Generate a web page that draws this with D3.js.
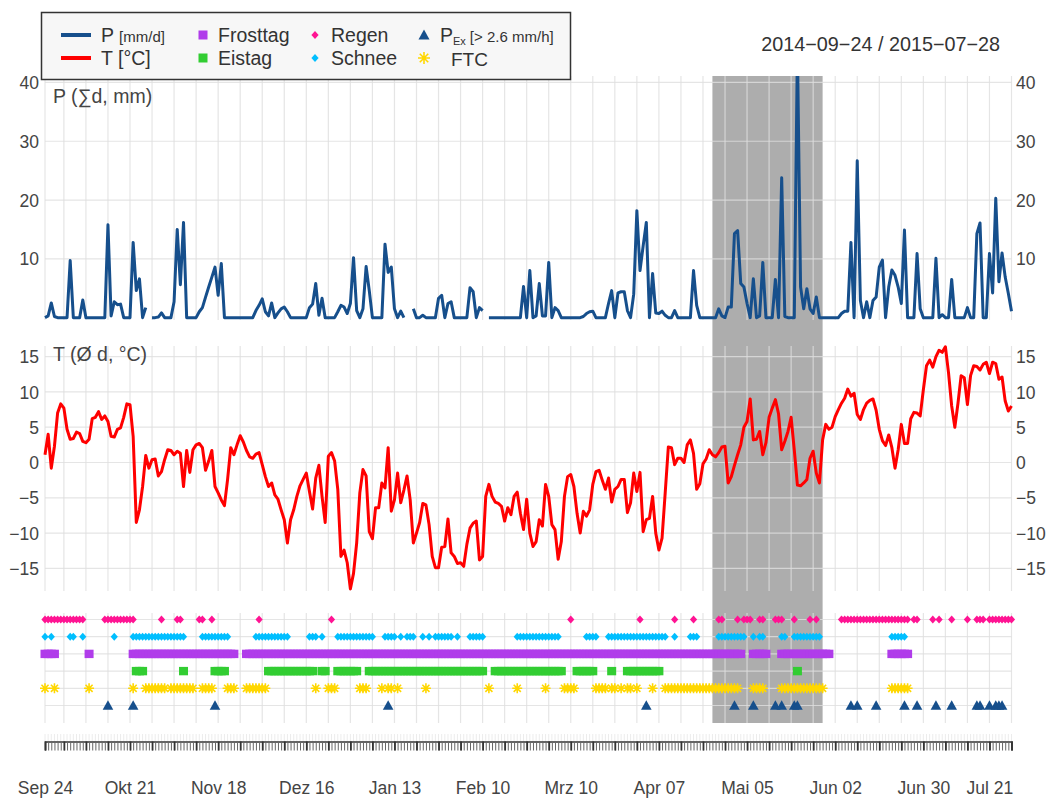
<!DOCTYPE html>
<html>
<head>
<meta charset="utf-8">
<script src="https://cdn.jsdelivr.net/npm/d3@7"></script>
<style>
  body { margin: 0; background: #fff; }
  svg { display: block; font-family: "Liberation Sans", Arial, sans-serif; }
</style>
</head>
<body>
<svg id="chart" width="1046" height="798"></svg>
<script>
// ---- period ----
const startDate = "2014-09-24";
const endDate = "2015-07-28";

// ---- daily precipitation sum (mm), null = no data ----
const precip = [
  0, 0.3, 2.5, 0.2, 0, 0, 0, 0, 9.7, 0, 0, 0, 3.0, 0, 0, 0, 0, 0, 0, 0,
  15.8, 0.3, 2.7, 2.2, 2.3, 0, 0, 0, 12.8, 4.6, 6.6, 0, 1.7, null, 0, 0, 0.1, 0.8, 0, 0,
  0, 2.7, 15.0, 5.6, 16.2, 0, 0, 0, 0, 1.0, 1.7, 3.5, 5.2, 6.9, 8.6, 3.8, 9.2, 0, 0, 0,
  0, 0, 0, 0, 0, 0, 0, 1.2, 2.1, 3.2, 1.0, 0.3, 2.5, 0, 0.8, 1.5, 1.8, 1.0, 0, 0,
  0, 0, 0, 0, 1.7, 2.3, 5.8, 0.4, 3.3, 0, 0, 0, 0, 1.0, 2.1, 1.8, 0.7, 2.4, 10.2, 1.2,
  0, 1.5, 8.7, 4.6, 0, 0, 0, 0, 12.5, 7.7, 8.6, 1.5, 0, 1.1, 0, null, null, 1.5, 0, 0,
  0.4, 0, 0, 0, 0, 3.3, 3.8, 0, 2.4, 2.7, 0, 0, 0, 0, 0, 5.1, 4.4, 0, 1.7, 1.2,
  null, 0, 0, 0, 0, 0, 0, 0, 0, 0, 0, 0, 5.3, 0, 8.0, 0, 0.3, 5.8, 0.3, 0.3,
  9.4, 0, 1.7, 1.2, 0, 0, 0, 0, 0, 0, 0, 0.2, 0.7, 1.0, 1.1, 0, 0, 0, 0, 2.4,
  4.6, 0, 4.2, 4.4, 4.4, 1.2, 0, 4.0, 18.2, 8.0, 12.2, 16.2, 0, 7.5, 0.8, 0.7, 1.1, 0.4, 0, 0,
  1.2, 0, 0, 0, 0, 0, 8.0, 2.1, 0, 0, 0, 0, 0, 0, 1.5, 0.3, 0, 1.8, 1.8, 14.3,
  14.8, 5.8, 5.2, 2.4, 0, 6.6, 0, 0.3, 9.4, 0, 0, 0, 6.5, 0, 23.8, 0.2, 0, 0, 0, 46,
  5.2, 1.5, 4.9, 1.5, 0.7, 3.5, 0, 0, 0, 0, 0, 0, 0, 0.7, 1.1, 1.1, 12.8, 0, 26.7, 2.9,
  0, 2.7, 0, 2.9, 3.5, 8.6, 9.8, 0, 5.2, 8.1, 7.2, 5.2, 2.4, 14.9, 0, 0, 0, 10.9, 1.5, 0,
  0, 0, 0, 10.1, 0, 0.5, 0, 0, 6.5, 0, 0, 0, 0, 1.7, 0, 0, 14.3, 16.1, 0, 0,
  10.9, 4.2, 20.3, 6.1, 11.0, 6.9, 4.1, 1.1
];

// ---- daily mean temperature (°C) ----
const temp = [
  1.1, 4.0, -0.8, 2.3, 7.0, 8.3, 7.7, 4.7, 3.3, 3.4, 4.3, 4.1, 3.0, 2.8, 3.3, 6.2, 6.4, 7.2, 6.1, 6.6,
  5.8, 3.7, 3.6, 4.7, 4.9, 6.4, 8.3, 8.2, 3.7, -8.5, -6.7, -3.4, 1.0, -0.8, 0.4, 0.5, -1.9, -1.3, 0.4, 1.8,
  1.7, 1.1, 1.6, 1.3, -3.4, 1.7, -1.4, 1.8, 2.5, 2.7, 2.1, -1.1, 0.2, 1.7, -3.4, -4.3, -5.3, -6.1, -2.4, 2.1,
  1.1, 2.5, 3.8, 2.9, 1.7, 0.8, 0.6, 1.2, 1.4, -0.3, -2.0, -3.4, -2.9, -4.6, -5.2, -6.7, -8.1, -11.4, -8.1, -6.7,
  -4.8, -3.3, -2.4, -1.5, -4.1, -6.6, -2.2, -0.4, -4.8, -8.5, 0.9, 1.4, 0.2, -3.8, -13.3, -12.4, -14.2, -17.9, -15.7, -11.4,
  -4.3, -1.0, -1.9, -9.8, -10.8, -6.4, -6.4, -2.9, -3.6, 2.1, -6.9, -5.3, -1.5, -5.7, -3.9, -1.9, -5.3, -11.4, -10.0, -8.5,
  -5.8, -6.0, -8.8, -13.3, -14.9, -14.9, -12.0, -11.9, -8.0, -12.8, -13.3, -14.3, -14.2, -14.7, -11.6, -9.3, -8.6, -8.3, -13.8, -13.3,
  -4.8, -3.1, -4.8, -5.6, -5.8, -6.2, -8.3, -6.4, -7.4, -4.8, -4.2, -7.2, -9.5, -5.2, -10.0, -11.9, -11.2, -8.1, -9.0, -3.1,
  -4.8, -8.8, -9.5, -13.7, -11.2, -4.8, -2.0, -1.7, -3.4, -7.2, -10.0, -6.9, -7.6, -6.7, -3.1, -1.3, -1.1, -2.5, -3.8, -2.2,
  -5.6, -3.8, -3.4, -2.4, -2.4, -7.1, -5.7, -1.5, -4.1, -1.4, -9.8, -8.1, -7.9, -4.8, -10.0, -12.4, -10.7, -4.3, 2.2, 2.1,
  -0.3, 0.6, 0.6, 0.0, 2.5, 3.2, 1.3, -3.8, -3.0, -0.2, 0.5, 1.8, 1.1, 0.8, 1.4, 2.2, 2.3, -2.9, -2.0, -0.4,
  1.1, 2.5, 5.0, 5.8, 9.0, 3.2, 3.3, 4.4, 1.1, 2.8, 6.4, 7.7, 8.9, 6.9, 1.8, 3.0, 4.4, 6.4, 1.8, -3.2,
  -3.3, -2.9, -2.4, 0.6, 1.6, -1.5, -2.9, 3.2, 5.4, 4.7, 5.0, 6.5, 7.5, 8.4, 9.1, 10.4, 9.4, 9.8, 6.8, 6.1,
  7.5, 8.4, 8.8, 9.0, 7.4, 4.7, 3.1, 2.4, 3.9, 2.1, -0.8, 1.8, 5.4, 2.7, 2.7, 6.2, 7.1, 7.0, 6.6, 10.3,
  13.7, 14.5, 13.5, 15.0, 15.9, 15.6, 16.4, 12.7, 8.0, 5.0, 8.4, 12.3, 12.0, 8.2, 12.3, 13.7, 13.6, 13.1, 13.9, 14.2,
  12.6, 14.2, 14.0, 11.8, 12.1, 8.7, 7.3, 8.0
];

// ---- event days (single dates or inclusive [from, to] ranges) ----
const regenDays = [
  ["2014-09-24", "2014-10-06"], ["2014-10-13", "2014-10-22"], ["2014-10-31"], ["2014-11-05", "2014-11-06"],
  ["2014-11-12", "2014-11-13"], ["2014-11-16"], ["2014-12-01"], ["2014-12-24"], ["2015-03-10"], ["2015-04-01"],
  ["2015-04-12"], ["2015-04-18"], ["2015-04-26", "2015-04-27"], ["2015-05-02"], ["2015-05-04", "2015-05-06"],
  ["2015-05-09", "2015-05-10"], ["2015-05-14", "2015-05-16"], ["2015-05-20"], ["2015-05-25"], ["2015-05-27"],
  ["2015-06-04", "2015-06-25"], ["2015-06-27", "2015-06-28"], ["2015-07-03"], ["2015-07-05"], ["2015-07-09"],
  ["2015-07-14"], ["2015-07-17", "2015-07-19"], ["2015-07-21", "2015-07-28"]
];
const schneeDays = [
  ["2014-09-24"], ["2014-09-26"], ["2014-10-02", "2014-10-03"], ["2014-10-06"], ["2014-10-16"],
  ["2014-10-22", "2014-11-07"], ["2014-11-13", "2014-11-21"], ["2014-11-30", "2014-12-10"], ["2014-12-17", "2014-12-19"],
  ["2014-12-21"], ["2014-12-26", "2015-01-06"], ["2015-01-10", "2015-01-13"], ["2015-01-15"], ["2015-01-17", "2015-01-19"],
  ["2015-01-22"], ["2015-01-24"], ["2015-01-26", "2015-01-31"], ["2015-02-02"], ["2015-02-06", "2015-02-10"],
  ["2015-02-21", "2015-03-06"], ["2015-03-15", "2015-03-18"], ["2015-03-22", "2015-04-09"], ["2015-04-12"],
  ["2015-04-17", "2015-04-19"], ["2015-04-26", "2015-05-04"], ["2015-05-07"], ["2015-05-09", "2015-05-10"],
  ["2015-05-16", "2015-05-17"], ["2015-05-20", "2015-05-28"], ["2015-06-20", "2015-06-24"]
];
const frostDays = [
  ["2014-09-24", "2014-09-27"], ["2014-10-08"], ["2014-10-22", "2014-11-23"], ["2014-11-27", "2015-05-03"],
  ["2015-05-07", "2015-05-11"], ["2015-05-16", "2015-05-31"], ["2015-06-20", "2015-06-25"]
];
const eisDays = [
  ["2014-10-23", "2014-10-25"], ["2014-11-07"], ["2014-11-17", "2014-11-20"], ["2014-12-04", "2014-12-18"],
  ["2014-12-21", "2014-12-22"], ["2014-12-26", "2015-01-01"], ["2015-01-05", "2015-02-10"], ["2015-02-14", "2015-03-07"],
  ["2015-03-12", "2015-03-17"], ["2015-03-23"], ["2015-03-28", "2015-04-07"], ["2015-05-21"]
];
const ftcDays = [
  ["2014-09-24"], ["2014-09-27"], ["2014-10-08"], ["2014-10-22"], ["2014-10-26", "2014-11-01"],
  ["2014-11-03", "2014-11-10"], ["2014-11-13", "2014-11-16"], ["2014-11-21", "2014-11-23"], ["2014-11-27", "2014-12-03"],
  ["2014-12-19"], ["2014-12-23", "2014-12-25"], ["2015-01-02", "2015-01-04"], ["2015-01-09"], ["2015-01-11", "2015-01-12"],
  ["2015-01-14"], ["2015-01-23"], ["2015-02-12"], ["2015-02-21"], ["2015-03-02"], ["2015-03-08", "2015-03-11"],
  ["2015-03-18", "2015-03-21"], ["2015-03-23", "2015-03-24"], ["2015-03-26"], ["2015-03-28", "2015-03-29"],
  ["2015-03-31"], ["2015-04-05"], ["2015-04-09", "2015-05-02"], ["2015-05-07", "2015-05-10"],
  ["2015-05-16", "2015-05-29"], ["2015-06-20", "2015-06-25"]
];
const pexDays = [
  "2014-10-14", "2014-10-22", "2014-11-17", "2015-01-11", "2015-04-03", "2015-05-01", "2015-05-07", "2015-05-14",
  "2015-05-16", "2015-05-20", "2015-05-21", "2015-06-07", "2015-06-09", "2015-06-15", "2015-06-24", "2015-06-28",
  "2015-07-04", "2015-07-09", "2015-07-17", "2015-07-18", "2015-07-21", "2015-07-23", "2015-07-24", "2015-07-25"
];

// highlighted period
const highlight = ["2015-04-24", "2015-05-29"];

// ---- axis ticks ----
const xTickDates = ["2014-09-24", "2014-10-21", "2014-11-18", "2014-12-16", "2015-01-13", "2015-02-10",
  "2015-03-10", "2015-04-07", "2015-05-05", "2015-06-02", "2015-06-30", "2015-07-21"];
const xTickLabels = ["Sep 24", "Okt 21", "Nov 18", "Dez 16", "Jan 13", "Feb 10",
  "Mrz 10", "Apr 07", "Mai 05", "Jun 02", "Jun 30", "Jul 21"];
const pTicks = [10, 20, 30, 40];
const tTicks = [-15, -10, -5, 0, 5, 10, 15];
const eventRows = ["Regen", "Schnee", "Frosttag", "Eistag", "FTC", "PEx"];

// ---- colours ----
const col = {
  p: "#164f8c", t: "#ff0000", frost: "#b03cea", eis: "#32cd32",
  regen: "#ff1493", schnee: "#00bfff", ftc: "#ffd700", pex: "#164f8c",
  band: "#adadad", grid: "rgb(222,222,222)", text: "#444"
};

// ---- setup ----
const parse = d3.utcParse("%Y-%m-%d");
const t0 = parse(startDate), t1 = parse(endDate);
const days = d3.utcDay.range(t0, d3.utcDay.offset(t1, 1));
const svg = d3.select("#chart");
const x = d3.scaleUtc().domain([t0, t1]).range([45, 1011.5]);

const panelP = { top: 76, bottom: 320 };
const panelT = { top: 346, bottom: 591 };
const panelE = { top: 613, bottom: 723 };

const yP = d3.scaleLinear().domain([-0.4, 41.1]).range([panelP.bottom, panelP.top]);
const yT = d3.scaleLinear().domain([-18.2, 16.5]).range([panelT.bottom, panelT.top]);
const yE = d3.scalePoint().domain(eventRows).range([619.5, 705.5]);

const expand = ranges => ranges.flatMap(r => r.length === 1
  ? [parse(r[0])]
  : d3.utcDay.range(parse(r[0]), d3.utcDay.offset(parse(r[1]), 1)));

// ---- highlighted period ----
svg.append("rect")
  .attr("x", x(parse(highlight[0])))
  .attr("y", panelP.top)
  .attr("width", x(parse(highlight[1])) - x(parse(highlight[0])))
  .attr("height", panelE.bottom - panelP.top)
  .attr("fill", col.band);

// ---- grid ----
const weekly = [t0].concat(d3.utcTuesday.range(t0, d3.utcDay.offset(t1, 1)));
const grid = svg.append("g").attr("stroke", col.grid).attr("stroke-opacity", 0.8).attr("stroke-width", 1.2);
[panelP, panelT, panelE].forEach(pn => {
  grid.append("g").selectAll("line").data(weekly).join("line")
    .attr("x1", d => x(d)).attr("x2", d => x(d))
    .attr("y1", pn.top).attr("y2", pn.bottom);
});
grid.append("g").selectAll("line").data(pTicks).join("line")
  .attr("x1", 45).attr("x2", 1011.5).attr("y1", d => yP(d)).attr("y2", d => yP(d));
grid.append("g").selectAll("line").data(tTicks).join("line")
  .attr("x1", 45).attr("x2", 1011.5).attr("y1", d => yT(d)).attr("y2", d => yT(d));
grid.append("g").selectAll("line").data(eventRows).join("line")
  .attr("x1", 45).attr("x2", 1011.5).attr("y1", d => yE(d)).attr("y2", d => yE(d));

// ---- clip paths ----
const defs = svg.append("defs");
defs.append("clipPath").attr("id", "clipP").append("rect")
  .attr("x", 0).attr("y", panelP.top).attr("width", 1046).attr("height", panelP.bottom - panelP.top + 4);
defs.append("clipPath").attr("id", "clipT").append("rect")
  .attr("x", 0).attr("y", panelT.top - 4).attr("width", 1046).attr("height", panelT.bottom - panelT.top + 8);

// ---- precipitation line ----
const pData = days.map((d, i) => ({ d, v: precip[i] }));
svg.append("path")
  .attr("clip-path", "url(#clipP)")
  .attr("fill", "none").attr("stroke", col.p).attr("stroke-width", 3)
  .attr("stroke-linejoin", "round")
  .attr("d", d3.line().defined(p => p.v != null).x(p => x(p.d)).y(p => yP(p.v))(pData));

// ---- temperature line ----
const tData = days.map((d, i) => ({ d, v: temp[i] }));
svg.append("path")
  .attr("clip-path", "url(#clipT)")
  .attr("fill", "none").attr("stroke", col.t).attr("stroke-width", 3)
  .attr("stroke-linejoin", "round")
  .attr("d", d3.line().defined(p => p.v != null).x(p => x(p.d)).y(p => yT(p.v))(tData));

// ---- marker shapes ----
const diamond = (w, h) => `M0,${-h}L${w},0L0,${h}L${-w},0Z`;
const triangle = (w, h) => `M0,${-h * 0.55}L${w},${h * 0.45}L${-w},${h * 0.45}Z`;
const asterisk = r => {
  const a = r * Math.SQRT1_2;
  return `M${-r},0L${r},0M0,${-r}L0,${r}M${-a},${-a}L${a},${a}M${-a},${a}L${a},${-a}`;
};

// ---- event rows ----
svg.append("g").selectAll("rect").data(expand(frostDays)).join("rect")
  .attr("x", d => x(d) - 4.5).attr("y", yE("Frosttag") - 4.2)
  .attr("width", 9).attr("height", 8.4).attr("fill", col.frost);
svg.append("g").selectAll("rect").data(expand(eisDays)).join("rect")
  .attr("x", d => x(d) - 4.5).attr("y", yE("Eistag") - 4.2)
  .attr("width", 9).attr("height", 8.4).attr("fill", col.eis);
svg.append("g").selectAll("path").data(expand(regenDays)).join("path")
  .attr("transform", d => `translate(${x(d)},${yE("Regen")})`)
  .attr("d", diamond(3.6, 4)).attr("fill", col.regen);
svg.append("g").selectAll("path").data(expand(schneeDays)).join("path")
  .attr("transform", d => `translate(${x(d)},${yE("Schnee")})`)
  .attr("d", diamond(3.6, 4)).attr("fill", col.schnee);
svg.append("g").selectAll("path").data(expand(ftcDays)).join("path")
  .attr("transform", d => `translate(${x(d)},${yE("FTC")})`)
  .attr("d", asterisk(5)).attr("stroke", col.ftc).attr("stroke-width", 1.6).attr("fill", "none");
svg.append("g").selectAll("path").data(pexDays.map(parse)).join("path")
  .attr("transform", d => `translate(${x(d)},${yE("PEx")})`)
  .attr("d", triangle(5.3, 9.4)).attr("fill", col.pex);

// ---- y axes (both sides) ----
function yAxes(scale, ticks) {
  const l = svg.append("g").attr("transform", "translate(39,0)")
    .call(d3.axisLeft(scale).tickValues(ticks).tickSize(0).tickPadding(0));
  const r = svg.append("g").attr("transform", "translate(1016,0)")
    .call(d3.axisRight(scale).tickValues(ticks).tickSize(0).tickPadding(0));
  [l, r].forEach(g => {
    g.select(".domain").remove();
    g.selectAll("text").attr("font-size", 17.5).attr("fill", col.text)
      .attr("font-family", "Liberation Sans, Arial, sans-serif").attr("dy", "0.35em");
  });
}
yAxes(yP, pTicks);
yAxes(yT, tTicks);

// ---- panel titles ----
svg.append("text").attr("x", 53).attr("y", 103).attr("font-size", 19.5).attr("fill", col.text)
  .text("P (∑d, mm)");
svg.append("text").attr("x", 53).attr("y", 361).attr("font-size", 19.5).attr("fill", col.text)
  .text("T (Ø d, °C)");

// ---- bottom time axis ----
const axisY = 741.5;
const strip = svg.append("g");
strip.append("g").selectAll("line").data(days).join("line")
  .attr("x1", d => x(d)).attr("x2", d => x(d)).attr("y1", 734).attr("y2", axisY)
  .attr("stroke", "#ececec").attr("stroke-width", 1);
strip.append("g").attr("transform", `translate(0,${axisY})`)
  .call(d3.axisBottom(x).tickValues(days).tickSize(9).tickFormat(""))
  .call(g => {
    g.select(".domain").attr("stroke", "#333").attr("stroke-width", 1.6);
    g.selectAll(".tick line").attr("stroke", "#666").attr("stroke-width", 1);
  });
strip.append("g").attr("transform", `translate(0,${axisY})`)
  .call(d3.axisBottom(x).tickValues(weekly).tickSize(9).tickFormat(""))
  .call(g => {
    g.select(".domain").remove();
    g.selectAll(".tick line").attr("stroke", "#333").attr("stroke-width", 1.8);
  });
const lab = svg.append("g").attr("transform", `translate(0,${axisY})`)
  .call(d3.axisBottom(x).tickValues(xTickDates.map(parse)).tickSize(0)
    .tickFormat((d, i) => xTickLabels[i]));
lab.select(".domain").remove();
lab.selectAll("text").attr("y", 52).attr("dy", 0).attr("font-size", 17.5).attr("fill", col.text)
  .attr("font-family", "Liberation Sans, Arial, sans-serif");

// ---- period caption ----
svg.append("text").attr("x", 1000).attr("y", 51).attr("text-anchor", "end")
  .attr("font-size", 19.8).attr("fill", "#333")
  .text(`${startDate.replace(/-/g, "\u2212")} / ${endDate.replace(/-/g, "\u2212")}`);

// ---- legend ----
const lg = svg.append("g");
lg.append("rect").attr("x", 41.5).attr("y", 12.5).attr("width", 529).attr("height", 67)
  .attr("fill", "#f7f7f7").attr("stroke", "#333").attr("stroke-width", 1.5);
const row1 = 35, row2 = 58, base = 7;
lg.append("line").attr("x1", 61).attr("x2", 91).attr("y1", row1).attr("y2", row1)
  .attr("stroke", col.p).attr("stroke-width", 4);
lg.append("line").attr("x1", 61).attr("x2", 91).attr("y1", row2).attr("y2", row2)
  .attr("stroke", col.t).attr("stroke-width", 4);
const t1El = lg.append("text").attr("x", 101).attr("y", row1 + base).attr("font-size", 19.5).attr("fill", "#333");
t1El.append("tspan").text("P ");
t1El.append("tspan").attr("font-size", 15).text("[mm/d]");
lg.append("text").attr("x", 101).attr("y", row2 + base).attr("font-size", 19.5).attr("fill", "#333").text("T [°C]");
lg.append("rect").attr("x", 198.5).attr("y", row1 - 4.5).attr("width", 9).attr("height", 9).attr("fill", col.frost);
lg.append("rect").attr("x", 198.5).attr("y", row2 - 4.5).attr("width", 9).attr("height", 9).attr("fill", col.eis);
lg.append("text").attr("x", 218).attr("y", row1 + base).attr("font-size", 19.5).attr("fill", "#333").text("Frosttag");
lg.append("text").attr("x", 218).attr("y", row2 + base).attr("font-size", 19.5).attr("fill", "#333").text("Eistag");
lg.append("path").attr("transform", `translate(315,${row1})`).attr("d", diamond(3.6, 4)).attr("fill", col.regen);
lg.append("path").attr("transform", `translate(315,${row2})`).attr("d", diamond(3.6, 4)).attr("fill", col.schnee);
lg.append("text").attr("x", 331).attr("y", row1 + base).attr("font-size", 19.5).attr("fill", "#333").text("Regen");
lg.append("text").attr("x", 331).attr("y", row2 + base).attr("font-size", 19.5).attr("fill", "#333").text("Schnee");
lg.append("path").attr("transform", `translate(424,${row1})`).attr("d", triangle(5.5, 10)).attr("fill", col.pex);
lg.append("path").attr("transform", `translate(424,${row2})`).attr("d", asterisk(6))
  .attr("stroke", col.ftc).attr("stroke-width", 1.6).attr("fill", "none");
const pex = lg.append("text").attr("x", 440).attr("y", row1 + base).attr("font-size", 19.5).attr("fill", "#333");
pex.append("tspan").text("P");
pex.append("tspan").attr("font-size", 11).attr("dy", 3).text("Ex");
pex.append("tspan").attr("font-size", 15).attr("dy", -3).attr("dx", 4).text("[> 2.6 mm/h]");
lg.append("text").attr("x", 451).attr("y", row2 + base + 0.5).attr("font-size", 19).attr("fill", "#333").text("FTC");
</script>
</body>
</html>
